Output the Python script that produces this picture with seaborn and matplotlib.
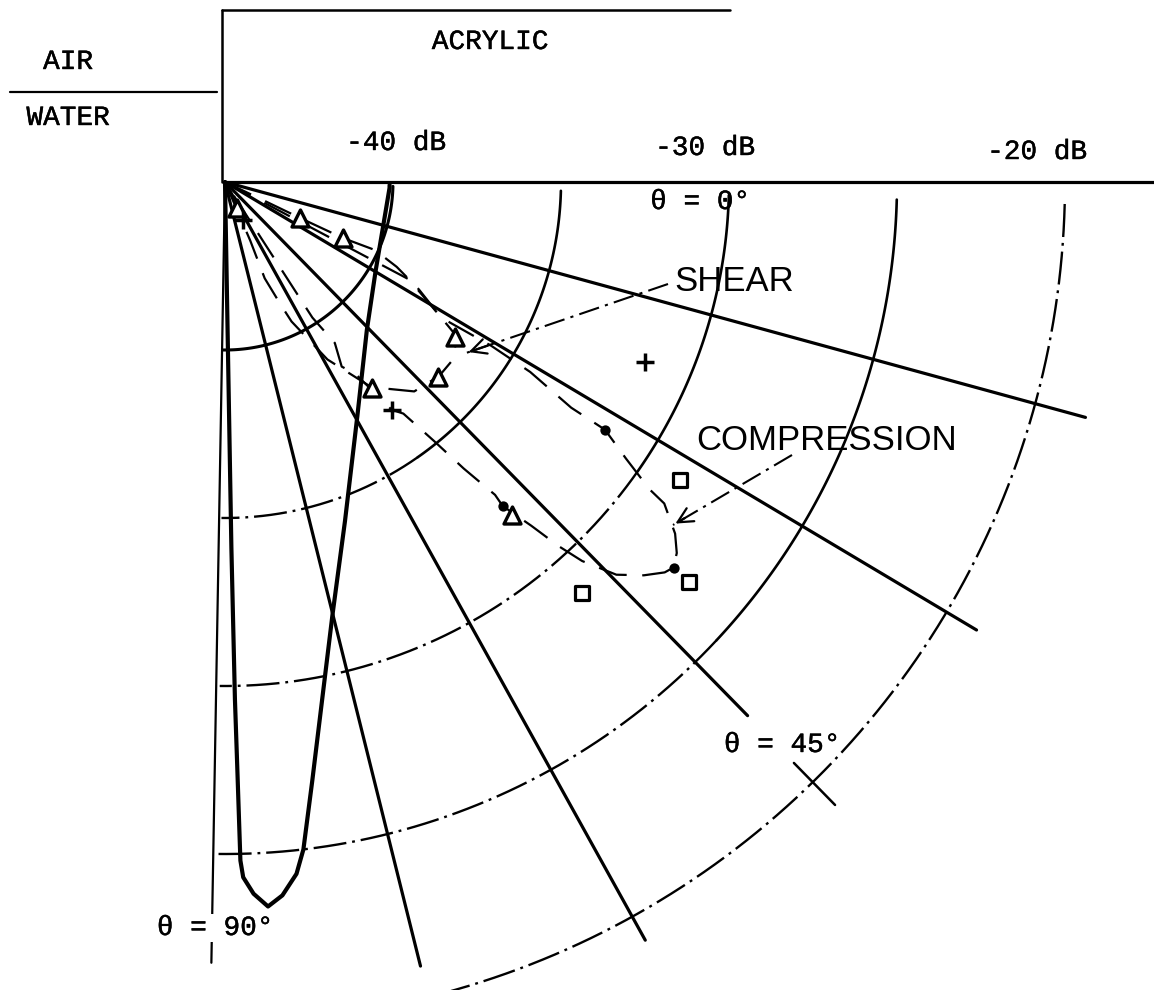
import numpy as np
import pandas as pd
import matplotlib
matplotlib.use("Agg")
import matplotlib.pyplot as plt
import matplotlib.patheffects as pe
import seaborn as sns

# ---------------------------------------------------------------------------
# Data: levels in dB, angles in degrees measured clockwise from the interface
# ---------------------------------------------------------------------------
R_MIN = -45.0                      # level at the centre of the fan
ring_levels_db = [-40, -35, -30, -25, -20]
ray_angles_deg = [0, 15.3, 30.8, 45.6, 61.0, 76.0, 91.0]
db_tick_labels = ["-40 dB", "-30 dB", "-20 dB"]
db_tick_levels = [-40, -30, -20]

# bold beam pattern
beam_theta = [1.0, 2.1, 16.9, 30.4, 46.2, 60.5, 70.5, 76.1, 79.4, 81.7, 83.3,
              84.1, 85.4, 86.6, 87.7, 88.5, 88.7, 88.8, 88.9, 89.0, 89.0]
beam_db = [-40.1, -40.1, -40.1, -39.8, -38.9, -37.0, -34.3, -31.7, -29.3, -27.0, -25.0,
           -24.3, -23.7, -23.4, -23.8, -24.3, -24.8, -27.6, -29.6, -34.1, -45.0]

# shear loop (dashed)
shear_theta = [25.0, 25.5, 25.6, 25.4, 24.4, 26.3, 29.0, 32.1, 33.7, 38.0, 42.2,
               47.9, 54.5, 60.0, 64.5, 65.6, 67.6, 66.7, 66.0]
shear_db = [-45.0, -43.6, -42.5, -41.1, -40.1, -39.3, -38.4, -37.4, -36.7, -36.4, -36.4,
            -36.6, -37.5, -38.9, -40.4, -41.0, -41.9, -43.1, -45.0]

# compression loop (dashed)
comp_theta = [27.0, 27.9, 32.1, 31.6, 31.9, 33.1, 33.1, 34.6, 35.9, 36.2, 38.0, 39.4,
              40.7, 41.6, 43.2, 45.1, 46.7, 47.5, 48.3, 49.4, 49.2, 50.2, 51.1, 52.4,
              53.8, 55.8, 57.7, 55.7, 57.2, 57.0]
comp_db = [-45.0, -38.8, -37.4, -35.7, -34.3, -32.7, -31.5, -30.5, -29.4, -28.8, -28.0, -27.6,
           -27.4, -27.5, -27.9, -28.5, -29.5, -30.3, -31.3, -32.3, -32.7, -33.9, -35.1, -36.3,
           -36.6, -38.1, -38.5, -39.2, -40.2, -45.0]

# measured points
tri_theta = [65.2, 25.6, 25.4, 34.0, 42.5, 54.5, 49.2]
tri_db = [-44.15, -42.52, -41.11, -36.75, -36.40, -37.47, -31.92]
plus_theta = [64.7, 23.2, 53.8]
plus_db = [-43.75, -31.40, -36.59]
dot_theta = [33.1, 49.4, 40.7]
dot_db = [-31.49, -32.29, -27.38]
sq_theta = [33.2, 40.8, 49.0]
sq_db = [-28.81, -26.77, -28.80]


# ---------------------------------------------------------------------------
# Helpers: polar (angle, dB) -> page coordinates, angle running clockwise
# ---------------------------------------------------------------------------
def to_xy(theta_deg, level_db):
    t = np.radians(np.asarray(theta_deg, dtype=float))
    r = np.asarray(level_db, dtype=float) - R_MIN
    r = np.clip(r, 0, None)
    return r * np.cos(t), -r * np.sin(t)


def polar_frame(theta_deg, level_db):
    x, y = to_xy(theta_deg, level_db)
    return pd.DataFrame({"x": x, "y": y, "i": np.arange(len(x))})


sns.set_theme(style="white")
plt.rcParams["font.family"] = ["DejaVu Sans"]

PX = 33.6  # pixels per dB
W, H = 1154, 990
OX, OY = 225, 182  # centre of the fan on the page

fig = plt.figure(figsize=(W / 100, H / 100), dpi=100)
ax = fig.add_axes([0, 0, 1, 1])
ax.set_xlim(-OX / PX, (W - OX) / PX)
ax.set_ylim(-(H - OY) / PX, OY / PX)
ax.set_aspect("equal")
ax.axis("off")

INK = "black"
dashdot = (0, (14, 2.5, 1.2, 2.5))

# ----- rings --------------------------------------------------------------
RING_END = 90.6
solid_until = {-40: RING_END, -35: 55, -30: 35, -25: 43, -20: 0}
for lvl in ring_levels_db:
    cut = solid_until[lvl]
    if cut > 1.5:
        th = np.linspace(1.5, cut, 120)
        df = polar_frame(th, np.full_like(th, lvl))
        sns.lineplot(data=df, x="x", y="y", sort=False, estimator=None, ax=ax,
                     color=INK, lw=1.9 if lvl > -40 else 2.2)
    if cut < RING_END:
        th = np.linspace(max(cut, 1.5), RING_END, 200)
        df = polar_frame(th, np.full_like(th, lvl))
        sns.lineplot(data=df, x="x", y="y", sort=False, estimator=None, ax=ax,
                     color=INK, lw=1.7, linestyle=dashdot)

# ----- rays ---------------------------------------------------------------
ray_end_db = [-10.0, -18.45, -18.96, -22.77, -19.2, -20.95, -21.76]
for ang, end in zip(ray_angles_deg, ray_end_db):
    df = polar_frame([ang, ang], [R_MIN, end])
    sns.lineplot(data=df, x="x", y="y", sort=False, estimator=None, ax=ax,
                 color=INK, lw=2.3 if ang < 90 else 1.6)
# cross mark where the 45 degree ray meets the outer ring
df = polar_frame([ray_angles_deg[3]] * 2, [-20.8, -19.05])
sns.lineplot(data=df, x="x", y="y", sort=False, estimator=None, ax=ax, color=INK, lw=1.8)

# ----- interface boundaries (air / water / acrylic) -------------------------
top_y = (OY - 10) / PX
ax.plot([-0.08, -0.08], [0, top_y], color=INK, lw=1.8)
ax.plot([-0.08, (730 - OX) / PX], [top_y, top_y], color=INK, lw=1.8)
ax.plot([(10 - OX) / PX, (217 - OX) / PX], [(OY - 92) / PX] * 2, color=INK, lw=1.6)

# ----- beam pattern -------------------------------------------------------
df = polar_frame(beam_theta, beam_db)
sns.lineplot(data=df, x="x", y="y", sort=False, estimator=None, ax=ax, color=INK, lw=3.0)

# ----- dashed loops -------------------------------------------------------
for th, lv in ((shear_theta, shear_db), (comp_theta, comp_db)):
    df = polar_frame(th, lv)
    sns.lineplot(data=df, x="x", y="y", sort=False, estimator=None, ax=ax,
                 color=INK, lw=1.6, linestyle=(0, (13, 7)))

# ----- measured points ----------------------------------------------------
for th, lv, mk, kw in (
    (tri_theta, tri_db, "^", dict(s=150, facecolor="white", edgecolor=INK, linewidth=2.4)),
    (sq_theta, sq_db, "s", dict(s=95, facecolor="white", edgecolor=INK, linewidth=2.3)),
    (dot_theta, dot_db, "o", dict(s=55, color=INK, linewidth=0)),
    (plus_theta, plus_db, "+", dict(s=160, color=INK, linewidth=2.5)),
):
    df = polar_frame(th, lv)
    sns.scatterplot(data=df, x="x", y="y", marker=mk, ax=ax, zorder=5, **kw)

# ----- text ---------------------------------------------------------------
heavier = [pe.withStroke(linewidth=0.3, foreground=INK)]
mono = dict(family=["Liberation Mono", "DejaVu Sans Mono"], fontsize=20, color=INK,
            ha="center", va="center", path_effects=heavier)
sans = dict(family=["Liberation Sans", "DejaVu Sans"], fontsize=25, color=INK,
            ha="center", va="center")


def P(px, py):
    return (px - OX) / PX, (OY - py) / PX


ax.text(*P(490, 42), "ACRYLIC", **mono)
ax.text(*P(68, 62), "AIR", **mono)
ax.text(*P(68, 118), "WATER", **mono)
for lab, px, py in zip(db_tick_labels, (396, 705, 1037), (143, 148, 152)):
    ax.text(*P(px, py), lab, **mono)
ax.text(*P(700, 202), "θ = 0°", **mono)
ax.text(*P(782, 745), "θ = 45°", **mono)
ax.text(*P(215, 928), "θ = 90°", zorder=6,
        bbox=dict(facecolor="white", edgecolor="none", pad=1.0), **mono)
ax.text(*P(734, 281), "SHEAR", **sans)
ax.text(*P(827, 440), "COMPRESSION", **sans)

# pointers from the labels to the loops
for tail, tip in (((668, 284), (466, 353)), ((792, 455), (673, 525))):
    (x0, y0), (x1, y1) = P(*tail), P(*tip)
    ax.plot([x0, x1], [y0, y1], color=INK, lw=1.5, linestyle=(0, (10, 3, 1.5, 3)))
    ax.annotate("", xy=(x1, y1), xytext=(x1 + (x0 - x1) * 0.12, y1 + (y0 - y1) * 0.12),
                arrowprops=dict(arrowstyle="->,head_length=0.9,head_width=0.45",
                                color=INK, lw=1.6))

fig.savefig("out.png", dpi=100, facecolor="white")
